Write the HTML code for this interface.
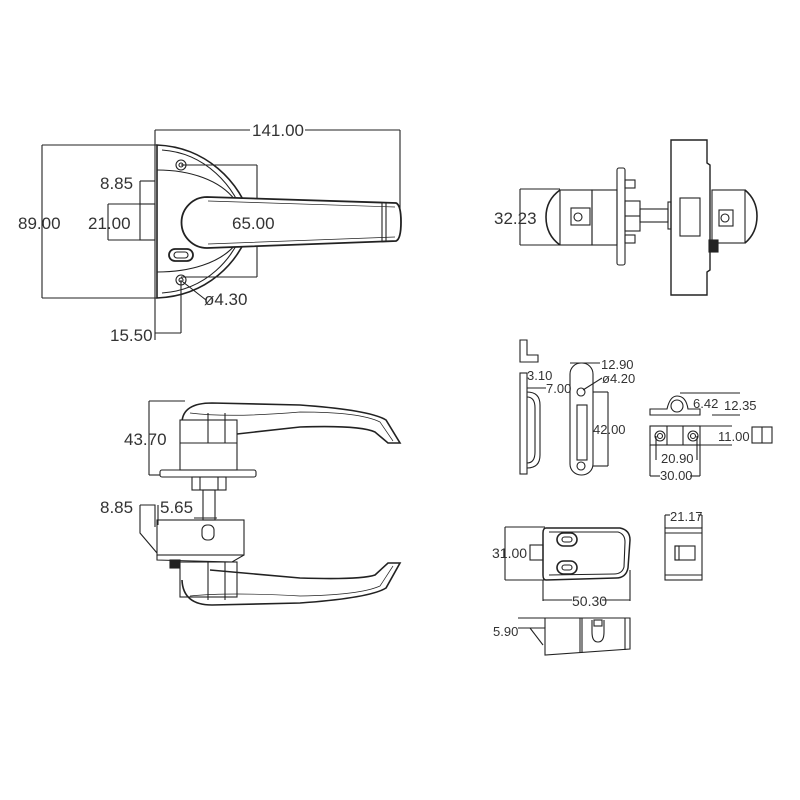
<!DOCTYPE html>
<html><head><meta charset="utf-8"><style>
html,body{margin:0;padding:0;background:#fff;width:800px;height:800px;overflow:hidden}
svg text{font-family:"Liberation Sans","DejaVu Sans",sans-serif;font-size:17px;fill:#333;stroke:none;font-weight:normal}
</style></head><body>
<svg width="800" height="800" viewBox="0 0 800 800" xmlns="http://www.w3.org/2000/svg" fill="none" stroke="#222" stroke-width="1.1">
<!-- ===== Top-left front view ===== -->
<line x1="155" y1="130" x2="250" y2="130"/><line x1="305" y1="130" x2="400" y2="130"/>
<line x1="155" y1="130" x2="155" y2="340"/><line x1="400" y1="130" x2="400" y2="210"/>
<text x="252" y="136">141.00</text>
<line x1="42" y1="145" x2="42" y2="298"/><line x1="42" y1="145" x2="157" y2="145"/><line x1="42" y1="298" x2="157" y2="298"/>
<text x="18" y="229">89.00</text>
<path d="M157,145 C205,147 240,180 252,222 C240,265 205,296 157,298 Z" stroke-width="1.6"/>
<path d="M157,170 C190,170 220,180 235,200"/><path d="M157,272 C190,272 220,263 235,245"/>
<path d="M162,150 C205,153 235,185 246,222 C235,260 205,290 162,293"/>
<circle cx="181" cy="165" r="5"/><circle cx="181" cy="165" r="2"/>
<circle cx="181" cy="280" r="5"/><circle cx="181" cy="280" r="2"/>
<line x1="181" y1="165" x2="257" y2="165"/><line x1="181" y1="277" x2="257" y2="277"/><line x1="257" y1="165" x2="257" y2="277"/>
<path d="M207,197 L396,203 Q401,205 401,222 Q401,239 396,241 L207,248 A25.5,25.5 0 0 1 207,197 Z" fill="#fff" stroke-width="1.8"/>
<path d="M208,201 L395,207 M208,244 L395,237" stroke-width="0.7"/>
<line x1="382" y1="203" x2="382" y2="241"/><line x1="386" y1="203" x2="386" y2="241"/>
<text x="232" y="229">65.00</text>
<rect x="169" y="249" width="24" height="12" rx="6" stroke-width="1.8"/><rect x="174" y="252" width="14" height="6" rx="3"/>
<rect x="140" y="204" width="15" height="36"/>
<line x1="140" y1="181" x2="155" y2="181"/><line x1="140" y1="181" x2="140" y2="204"/>
<text x="100" y="189">8.85</text>
<line x1="108" y1="204" x2="140" y2="204"/><line x1="108" y1="240" x2="140" y2="240"/><line x1="108" y1="204" x2="108" y2="240"/>
<text x="88" y="229">21.00</text>
<line x1="181" y1="280" x2="181" y2="333"/><line x1="155" y1="333" x2="181" y2="333"/>
<text x="110" y="341">15.50</text>
<line x1="183" y1="282" x2="206" y2="300"/><text x="204" y="305">ø4.30</text>

<!-- ===== Bottom-left side view ===== -->
<line x1="149" y1="401" x2="149" y2="475"/><line x1="149" y1="401" x2="185" y2="401"/><line x1="149" y1="475" x2="160" y2="475"/>
<text x="124" y="445">43.70</text>
<path d="M182,422 Q183,403 212,403 L300,405 Q370,410 386,420 L400,443 L388,443 L375,432 Q360,425 300,427 L210,437" stroke-width="1.6"/>
<path d="M190,413 Q230,418 300,412 Q360,412 380,422 L393,441" stroke-width="0.7"/>
<rect x="180" y="420" width="57" height="50" fill="#fff"/><line x1="208" y1="413" x2="208" y2="443"/><line x1="225" y1="413" x2="225" y2="443"/>
<line x1="180" y1="443" x2="237" y2="443"/>
<rect x="160" y="470" width="96" height="7" rx="2"/>
<rect x="192" y="477" width="34" height="13"/><line x1="200" y1="477" x2="200" y2="490"/><line x1="218" y1="477" x2="218" y2="490"/>
<rect x="203" y="490" width="12" height="30"/>
<rect x="157" y="520" width="87" height="35"/><line x1="194" y1="518" x2="217" y2="518"/>
<rect x="202" y="525" width="12" height="15" rx="5"/>
<path d="M140,505 L155,505 L155,527 M140,505 L140,533 L157,553"/>
<path d="M157,555 L157,560 L232,562 L244,555"/>
<rect x="170" y="560" width="10" height="8" fill="#222"/>
<text x="100" y="513">8.85</text><text x="160" y="513">5.65</text>
<line x1="158" y1="505" x2="158" y2="525"/>
<rect x="180" y="562" width="57" height="35" fill="#fff"/><line x1="208" y1="562" x2="208" y2="600"/><line x1="225" y1="562" x2="225" y2="600"/>
<path d="M182,580 Q183,605 212,605 L300,603 Q370,598 386,588 L400,563 L388,563 L375,575 Q360,580 300,578 L210,570" stroke-width="1.6"/>
<path d="M190,596 Q230,592 300,596 Q360,595 380,586 L393,566" stroke-width="0.7"/>

<!-- ===== Top-right view ===== -->
<line x1="520" y1="189" x2="520" y2="245"/><line x1="520" y1="189" x2="560" y2="189"/><line x1="520" y1="245" x2="560" y2="245"/>
<text x="494" y="224">32.23</text>
<path d="M560,190 Q546,200 546,217 Q546,235 560,245" stroke-width="1.6"/>
<rect x="560" y="190" width="32" height="55"/><rect x="592" y="190" width="25" height="55"/>
<rect x="571" y="208" width="19" height="17"/><circle cx="578" cy="217" r="4"/>
<rect x="617" y="168" width="8" height="97" rx="2"/>
<rect x="625" y="180" width="10" height="8"/><rect x="625" y="235" width="10" height="8"/>
<rect x="625" y="201" width="15" height="30"/><line x1="625" y1="216" x2="640" y2="216"/>
<rect x="640" y="209" width="28" height="13"/>
<rect x="668" y="202" width="3" height="27"/>
<path d="M671,140 L707,140 L707,163 L710,165 L710,270 L707,272 L707,295 L671,295 Z" stroke-width="1.4"/>
<rect x="680" y="198" width="20" height="38"/>
<rect x="712" y="190" width="33" height="53"/><path d="M745,190 Q757,200 757,216 Q757,233 745,243" stroke-width="1.6"/>
<rect x="719" y="210" width="14" height="16"/><circle cx="725" cy="218" r="4"/>
<rect x="709" y="240" width="9" height="12" fill="#222"/>

<!-- ===== Middle-right: strike/catch ===== -->
<path d="M520,340 L527,340 L527,355 L538,355 L538,362 L520,362 Z"/>
<rect x="520" y="373" width="7" height="101"/>
<path d="M527,392 Q540,392 540,405 L540,455 Q540,468 527,468"/><path d="M527,397 Q535,397 535,408 L535,452 Q535,463 527,463"/>
<text x="527" y="380" style="font-size:13px">3.10</text>
<line x1="527" y1="388" x2="546" y2="388"/><text x="546" y="393" style="font-size:13px">7.00</text>
<rect x="570" y="363" width="23" height="112" rx="11"/>
<rect x="577" y="405" width="10" height="55"/>
<circle cx="581" cy="392" r="4"/><circle cx="581" cy="466" r="4"/>
<line x1="570" y1="363" x2="600" y2="363"/><text x="601" y="369" style="font-size:13px">12.90</text>
<line x1="583" y1="390" x2="602" y2="378"/><text x="602" y="383" style="font-size:13px">ø4.20</text>
<line x1="593" y1="392" x2="608" y2="392"/><line x1="593" y1="466" x2="608" y2="466"/><line x1="608" y1="392" x2="608" y2="466"/>
<text x="593" y="434" style="font-size:13px">42.00</text>
<path d="M650,415 L650,409 L667,409 Q670,396 677,396 Q686,396 688,409 L700,409 L700,415 Z"/>
<circle cx="677" cy="406" r="6"/>
<line x1="680" y1="393" x2="740" y2="393"/><line x1="712" y1="415" x2="740" y2="415"/>
<text x="693" y="408" style="font-size:13px">6.42</text><text x="724" y="410" style="font-size:13px">12.35</text>
<rect x="650" y="426" width="50" height="19"/><line x1="667" y1="426" x2="667" y2="445"/><line x1="683" y1="426" x2="683" y2="445"/>
<circle cx="660" cy="436" r="5"/><circle cx="660" cy="436" r="2.5"/><circle cx="693" cy="436" r="5"/><circle cx="693" cy="436" r="2.5"/>
<line x1="700" y1="426" x2="732" y2="426"/><line x1="700" y1="445" x2="732" y2="445"/>
<text x="718" y="441" style="font-size:13px">11.00</text>
<line x1="656" y1="436" x2="656" y2="460"/><line x1="697" y1="436" x2="697" y2="460"/>
<text x="661" y="463" style="font-size:13px">20.90</text>
<line x1="650" y1="445" x2="650" y2="476"/><line x1="700" y1="445" x2="700" y2="476"/>
<line x1="650" y1="476" x2="660" y2="476"/><line x1="690" y1="476" x2="700" y2="476"/>
<text x="660" y="480" style="font-size:13px">30.00</text>
<rect x="752" y="427" width="20" height="16"/><line x1="762" y1="427" x2="762" y2="443"/>

<!-- ===== Bottom-right latch ===== -->
<line x1="505" y1="527" x2="505" y2="580"/><line x1="505" y1="527" x2="545" y2="527"/><line x1="505" y1="580" x2="545" y2="580"/>
<text x="492" y="558" style="font-size:14px">31.00</text>
<rect x="530" y="545" width="13" height="15"/>
<path d="M546,528 L620,528 Q630,530 630,540 L628,568 Q626,578 616,578 L546,580 Q543,580 543,575 L543,533 Q543,528 546,528 Z" stroke-width="1.5"/>
<path d="M549,532 L618,532 Q625,534 625,542 L624,567 Q622,574 614,574 L549,575"/>
<rect x="557" y="533" width="20" height="13" rx="6.5" stroke-width="1.6"/><rect x="562" y="537" width="10" height="5" rx="2.5"/>
<rect x="557" y="561" width="20" height="13" rx="6.5" stroke-width="1.6"/><rect x="562" y="565" width="10" height="5" rx="2.5"/>
<line x1="543" y1="580" x2="543" y2="601"/><line x1="630" y1="570" x2="630" y2="601"/>
<line x1="543" y1="600" x2="572" y2="600"/><line x1="602" y1="600" x2="630" y2="600"/>
<text x="572" y="606" style="font-size:14px">50.30</text>
<rect x="665" y="528" width="37" height="52"/><line x1="665" y1="533" x2="702" y2="533"/><line x1="665" y1="575" x2="702" y2="575"/>
<rect x="675" y="546" width="20" height="14"/><rect x="675" y="546" width="4" height="14"/>
<line x1="665" y1="515" x2="670" y2="515"/><line x1="698" y1="515" x2="702" y2="515"/><line x1="665" y1="515" x2="665" y2="528"/><line x1="702" y1="515" x2="702" y2="528"/>
<text x="670" y="521" style="font-size:13px">21.17</text>
<path d="M518,618 L630,618 L630,649 L545,655 L545,628 L518,628"/>
<line x1="545" y1="618" x2="545" y2="628"/><line x1="580" y1="618" x2="580" y2="653"/><line x1="582" y1="618" x2="582" y2="653"/><line x1="625" y1="618" x2="625" y2="650"/>
<path d="M530,628 L543,645"/>
<path d="M592,620 L592,632 Q592,642 598,642 Q604,642 604,632 L604,620"/><rect x="594" y="620" width="8" height="6"/>
<text x="493" y="636" style="font-size:13px">5.90</text>
</svg>
</body></html>
